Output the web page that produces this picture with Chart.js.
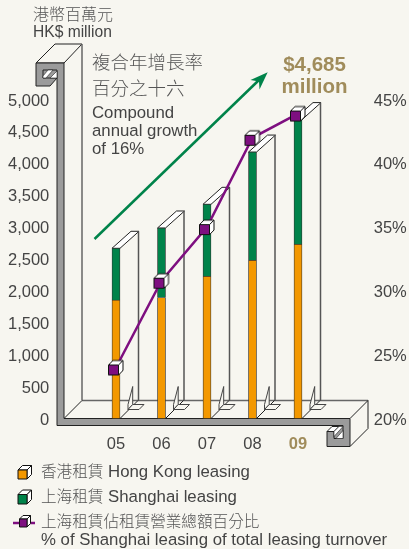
<!DOCTYPE html>
<html>
<head>
<meta charset="utf-8">
<script src="https://cdn.jsdelivr.net/npm/chart.js@4"></script>
<style>
  html, body { margin: 0; padding: 0; background: #f7f6f0; }
  #wrap { position: relative; width: 409px; height: 549px; overflow: hidden; }
  #chart { position: absolute; left: 0; top: 0; }
  .t { position: absolute; white-space: nowrap; color: #444; font-family: "Liberation Sans", sans-serif; font-size: 16.8px; line-height: 18px; }
  .zh { font-family: "Noto Sans CJK TC", sans-serif; font-weight: 300; color: #555; font-size: 15.6px; }
  .big { color: #a08c5b; font-weight: bold; font-size: 20.5px; line-height: 22px; text-align: center; }
</style>
</head>
<body>
<div id="wrap">
  <canvas id="chart" width="409" height="549"></canvas>
  <div class="t zh" style="left:33px;top:4px;font-size:16px">港幣百萬元</div>
  <div class="t" style="left:33px;top:23px;font-size:15.6px">HK$ million</div>
  <div class="t zh" style="left:92px;top:51px;font-size:18.5px;line-height:20px">複合年增長率</div>
  <div class="t zh" style="left:92px;top:77px;font-size:18.5px;line-height:20px">百分之十六</div>
  <div class="t" style="left:92px;top:104px">Compound</div>
  <div class="t" style="left:92px;top:122px">annual growth</div>
  <div class="t" style="left:92px;top:140px">of 16%</div>
  <div class="t big" style="left:268px;top:53px;width:93px">$4,685<br>million</div>
  <div class="t" style="left:41px;top:461px"><span class="zh">香港租賃</span> Hong Kong leasing</div>
  <div class="t" style="left:41px;top:486px"><span class="zh">上海租賃</span> Shanghai leasing</div>
  <div class="t zh" style="left:41px;top:511px">上海租賃佔租賃營業總額百分比</div>
  <div class="t" style="left:41px;top:531px">% of Shanghai leasing of total leasing turnover</div>
</div>
<script>
const years = ['05', '06', '07', '08', '09'];
const hongKong = [1855, 1897, 2230, 2480, 2730];
const shanghai = [813, 1089, 1127, 1696, 1955];
const shanghaiPct = [24.0, 30.8, 35.0, 42.0, 43.9];

const BG = '#f7f6f0';
const ORANGE = '#f39800';
const GREEN = '#00834a';
const PURPLE = '#7e0f80';
const TAN = '#a08c5b';
const GREY = '#9b9b9b';
const INK = '#444';
const TICK_FONT = { family: 'Liberation Sans', size: 16.5 };

function poly(c, pts, fill, stroke, lw) {
  c.beginPath();
  pts.forEach((p, i) => i ? c.lineTo(p[0], p[1]) : c.moveTo(p[0], p[1]));
  c.closePath();
  if (fill) { c.fillStyle = fill; c.fill(); }
  if (stroke) { c.strokeStyle = stroke; c.lineWidth = lw || 1; c.stroke(); }
}

function seg(c, x1, y1, x2, y2, stroke, lw) {
  c.beginPath();
  c.moveTo(x1, y1);
  c.lineTo(x2, y2);
  c.strokeStyle = stroke;
  c.lineWidth = lw || 1;
  c.stroke();
}

// little box, x/y is top left of the front face
function cube(c, x, y, w, h, d, color) {
  poly(c, [[x, y], [x + d, y - d], [x + w + d, y - d], [x + w, y]], '#fff', '#111');
  poly(c, [[x + w, y], [x + w + d, y - d], [x + w + d, y + h - d], [x + w, y + h]], '#fff', '#111');
  poly(c, [[x, y], [x + w, y], [x + w, y + h], [x, y + h]], color, '#111');
}

const marker = document.createElement('canvas');
marker.width = 18;
marker.height = 18;
cube(marker.getContext('2d'), 1.5, 6.5, 10, 10, 4.5, PURPLE);

// back walls, floor and the bent steel band round the plot
const frame = {
  id: 'frame',
  beforeDatasetsDraw(chart) {
    const c = chart.ctx;
    const floor = chart.scales.y.getPixelForValue(0);
    const tops = chart.getDatasetMeta(2).data;
    c.save();

    // wall + floor
    poly(c, [[36, 63], [55, 44], [82, 44], [64, 63]], BG, '#222');
    seg(c, 82, 44, 82, floor - 18, '#666', 1.5);
    seg(c, 82, floor - 18, 368, floor - 18, '#666', 1.5);
    seg(c, 64, floor, 82, floor - 18, '#222');
    seg(c, 350, floor, 368, floor - 18, '#222');
    seg(c, 368, floor - 18, 368, floor + 10, '#222');
    seg(c, 368, floor + 10, 350, floor + 28, '#222');

    // depth of each bar with its small foot
    tops.forEach(b => {
      const r = b.x + 4;
      const l = b.x - 4;
      const bx = b.x + 22.5;
      poly(c, [[l, b.y], [r, b.y], [r + 19, b.y - 17], [l + 19, b.y - 17]], '#fff', '#222');
      seg(c, bx, b.y - 17, bx, floor - 18, '#555', 1.5);
      seg(c, r, floor, r + 18, floor - 18, '#222');
      poly(c, [[b.x + 12, floor - 14], [b.x + 16.7, floor - 32], [b.x + 16.7, floor - 14], [b.x + 12, floor - 9]], BG, '#444');
      poly(c, [[b.x + 16.7, floor - 14], [b.x + 28, floor - 14], [b.x + 23, floor - 9], [b.x + 12, floor - 9]], BG, '#444');
    });

    // band
    poly(c, [[334, floor + 7], [343, floor + 7], [343, floor + 20], [334, floor + 20]], GREY);
    poly(c, [
      [36, 63], [64, 63], [64, floor], [350, floor], [350, floor + 28], [327, floor + 28],
      [327, floor + 13], [334, floor + 13], [334, floor + 20], [343, floor + 20], [343, floor + 7],
      [57, floor + 7], [57, 78], [50, 86], [36, 86]
    ], GREY, '#222');
    // inside of the top cap
    poly(c, [[43, 70], [57, 70], [57, 78], [43, 78]], GREY, '#222');
    poly(c, [[43, 76], [48, 70], [53, 70], [46, 78], [43, 78]], '#fff', '#222', 0.6);
    poly(c, [[50, 78], [57, 71], [57, 78]], '#fff', '#222', 0.6);
    // inside of the bottom cap
    poly(c, [[327, floor + 13], [332, floor + 8], [339, floor + 8], [334, floor + 13]], '#fff', '#222');
    poly(c, [[334, floor + 13], [339, floor + 8], [343, floor + 8], [334, floor + 18]], '#fff', '#222', 0.6);
    poly(c, [[336, floor + 20], [343, floor + 12], [343, floor + 20]], '#fff', '#222', 0.6);
    c.restore();
  },
  afterDraw(chart) {
    const c = chart.ctx;
    c.save();
    // growth arrow
    seg(c, 94.5, 239, 259, 80, GREEN, 2.5);
    poly(c, [[267.7, 72.3], [250.5, 80], [259, 81.5], [259.5, 89.5]], GREEN);
    // legend keys
    cube(c, 18, 470, 9, 9, 4.5, ORANGE);
    cube(c, 18, 494.5, 9, 9.5, 4.5, GREEN);
    seg(c, 13, 523, 35, 523, PURPLE, 2.5);
    cube(c, 19.5, 519, 7.5, 8, 3.5, PURPLE);
    c.restore();
  }
};

new Chart(document.getElementById('chart'), {
  type: 'bar',
  data: {
    labels: years,
    datasets: [
      { type: 'line', label: '% of Shanghai leasing of total leasing turnover', data: shanghaiPct, yAxisID: 'y1', order: 0, borderColor: PURPLE, borderWidth: 2.5, tension: 0, pointStyle: marker, pointRadius: 8 },
      { label: 'Hong Kong leasing', data: hongKong, backgroundColor: ORANGE, borderColor: '#333', borderWidth: 0.75, barThickness: 8, order: 1, stack: 's' },
      { label: 'Shanghai leasing', data: shanghai, backgroundColor: GREEN, borderColor: '#333', borderWidth: 0.75, barThickness: 8, order: 1, stack: 's' }
    ]
  },
  options: {
    responsive: false,
    animation: false,
    layout: { padding: { top: 99.5 } },
    plugins: { legend: { display: false }, tooltip: { enabled: false } },
    scales: {
      x: {
        stacked: true,
        grid: { display: false, drawTicks: false },
        border: { display: false },
        afterFit: s => { s.height = 130.5; },
        ticks: {
          padding: 16,
          color: ctx => ctx.index === 4 ? TAN : INK,
          font: ctx => ({ ...TICK_FONT, weight: ctx.index === 4 ? 'bold' : 'normal' })
        }
      },
      y: {
        stacked: true,
        position: 'left',
        min: 0,
        max: 5000,
        grid: { display: false, drawTicks: false },
        border: { display: false },
        afterFit: s => { s.width = 93.25; },
        ticks: {
          stepSize: 500,
          padding: 44,
          labelOffset: 1.5,
          color: INK,
          font: TICK_FONT,
          callback: v => v.toLocaleString('en-US')
        }
      },
      y1: {
        position: 'right',
        min: 20,
        max: 45,
        grid: { display: false, drawTicks: false },
        border: { display: false },
        afterFit: s => { s.width = 88.25; },
        ticks: {
          stepSize: 5,
          padding: 53,
          labelOffset: 1.5,
          color: INK,
          font: TICK_FONT,
          callback: v => v + '%'
        }
      }
    }
  },
  plugins: [frame]
});
</script>
</body>
</html>
